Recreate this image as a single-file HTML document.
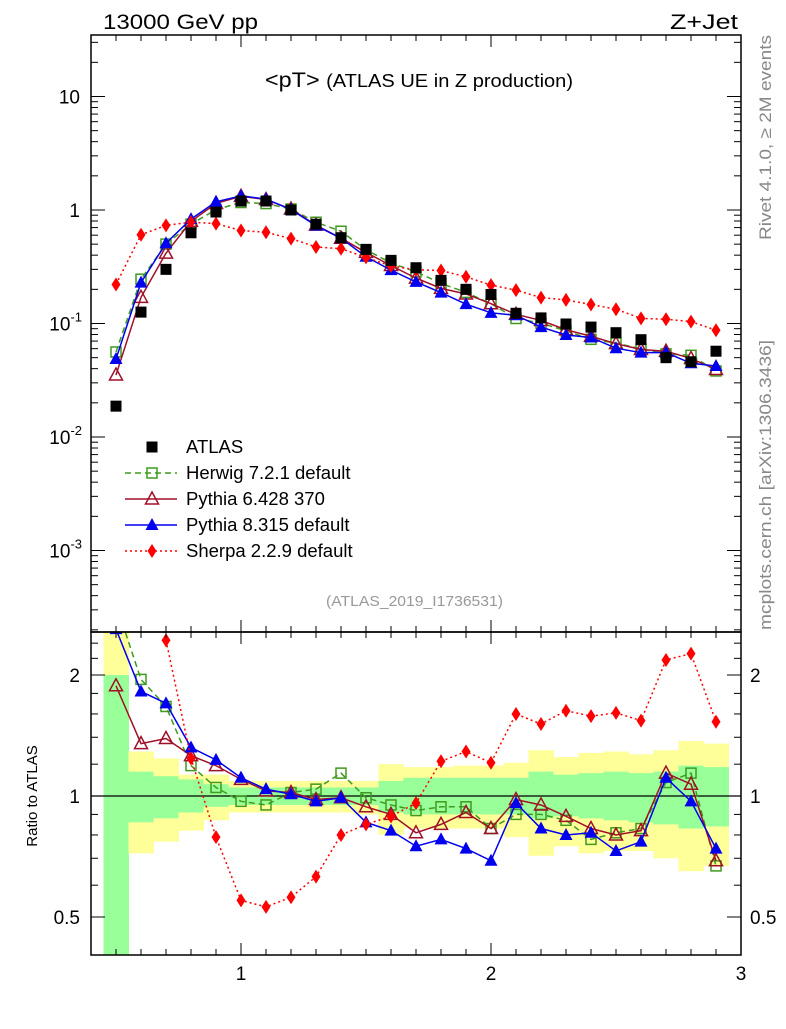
<!DOCTYPE html>
<html><head><meta charset="utf-8">
<style>
body{margin:0;background:#fff;}
svg text{font-family:"Liberation Sans",sans-serif;}
</style></head>
<body>
<svg id="chart" width="786" height="1024" viewBox="0 0 786 1024" xmlns="http://www.w3.org/2000/svg">
<defs>
<clipPath id="clipMain"><rect x="91" y="35" width="650" height="597"/></clipPath>
<clipPath id="clipRatio"><rect x="91" y="632" width="650" height="323"/></clipPath>
</defs>
<g id="bands" clip-path="url(#clipRatio)"></g>
<g id="marks"></g>
<rect x="91" y="35" width="650" height="597" fill="none" stroke="#000" stroke-width="1.5"/>
<rect x="91" y="632" width="650" height="323" fill="none" stroke="#000" stroke-width="1.5"/>
<g id="axes"></g>
<text x="103" y="29" font-size="21" textLength="155" lengthAdjust="spacingAndGlyphs">13000 GeV pp</text>
<text x="670" y="29" font-size="21" textLength="68" lengthAdjust="spacingAndGlyphs">Z+Jet</text>
<text x="265" y="87" font-size="21" textLength="308" lengthAdjust="spacingAndGlyphs">&lt;pT&gt; <tspan font-size="18">(ATLAS UE in Z production)</tspan></text>
<text x="326" y="606" font-size="15" fill="#999" textLength="177" lengthAdjust="spacingAndGlyphs">(ATLAS_2019_I1736531)</text>
<text transform="translate(771,240) rotate(-90)" font-size="17" fill="#888" textLength="205" lengthAdjust="spacingAndGlyphs">Rivet 4.1.0, ≥ 2M events</text>
<text transform="translate(771,630) rotate(-90)" font-size="17" fill="#888" textLength="290" lengthAdjust="spacingAndGlyphs">mcplots.cern.ch [arXiv:1306.3436]</text>
<text transform="translate(37,796) rotate(-90)" font-size="15" text-anchor="middle">Ratio to ATLAS</text>
<g id="legend"></g>
</svg>
<script>
const xs = [0.5,0.6,0.7,0.8,0.9,1.0,1.1,1.2,1.3,1.4,1.5,1.6,1.7,1.8,1.9,2.0,2.1,2.2,2.3,2.4,2.5,2.6,2.7,2.8,2.9];
const atlas = [0.0187,0.126,0.30,0.63,0.96,1.2,1.2,1.0,0.75,0.57,0.45,0.36,0.31,0.24,0.20,0.18,0.123,0.112,0.099,0.093,0.083,0.072,0.050,0.046,0.057];
const herwigRatio = [3.0,1.95,1.67,1.19,1.05,0.97,0.95,1.02,1.04,1.14,0.99,0.95,0.92,0.94,0.94,0.83,0.90,0.90,0.87,0.78,0.81,0.83,1.08,1.14,0.67];
const py6Ratio = [1.88,1.35,1.39,1.26,1.19,1.10,1.03,1.02,0.98,0.99,0.94,0.90,0.81,0.85,0.91,0.83,0.98,0.95,0.89,0.83,0.80,0.82,1.14,1.07,0.69];
const py8Ratio = [2.6,1.82,1.70,1.32,1.23,1.11,1.04,1.01,0.97,0.99,0.86,0.82,0.75,0.78,0.74,0.69,0.96,0.83,0.80,0.81,0.73,0.77,1.11,0.97,0.74];
const sherpaRatio = [11.8,4.8,2.44,1.24,0.79,0.55,0.53,0.56,0.63,0.80,0.85,0.89,0.96,1.22,1.29,1.21,1.60,1.51,1.63,1.58,1.61,1.54,2.18,2.26,1.53];
const yellowHi = [2.7,1.29,1.24,1.13,1.13,1.09,1.09,1.09,1.09,1.09,1.09,1.20,1.18,1.18,1.19,1.19,1.21,1.30,1.25,1.28,1.29,1.27,1.30,1.37,1.35];
const yellowLo = [0.3,0.72,0.77,0.82,0.87,0.91,0.91,0.91,0.91,0.91,0.90,0.80,0.83,0.83,0.83,0.83,0.79,0.71,0.75,0.72,0.73,0.73,0.70,0.65,0.67];
const greenHi = [2.0,1.15,1.12,1.10,1.07,1.05,1.05,1.05,1.05,1.05,1.05,1.09,1.11,1.11,1.11,1.11,1.11,1.15,1.13,1.14,1.15,1.14,1.15,1.19,1.18];
const greenLo = [0.3,0.86,0.88,0.91,0.94,0.95,0.95,0.95,0.95,0.95,0.95,0.91,0.90,0.90,0.90,0.90,0.90,0.88,0.89,0.88,0.87,0.86,0.85,0.83,0.84];
const xTicks = [1,2,3];
const mainTicks = [1,0,-1,-2,-3];
const ratioTicks = [0.5,1,2];

const NS="http://www.w3.org/2000/svg";
const X0=91,X1=741;
function sx(v){return X0+(v-0.4)*(X1-X0)/2.6;}
function sy(v){return 210-Math.log10(v)*113.5;}
function ry(v){return 796-Math.log10(v)*402;}
function mk(tag,attrs,parent){const e=document.createElementNS(NS,tag);for(const k in attrs)e.setAttribute(k,attrs[k]);parent.appendChild(e);return e;}

const bands=document.getElementById('bands');
xs.forEach((x,i)=>{
  const a=sx(x-0.05),b=sx(x+0.05);
  const r1=mk('rect',{x:a,y:ry(yellowHi[i]),width:b-a+0.5,height:ry(yellowLo[i])-ry(yellowHi[i]),fill:'#ffff99'},bands);
  
  
  const r2=mk('rect',{x:a,y:ry(greenHi[i]),width:b-a+0.5,height:ry(greenLo[i])-ry(greenHi[i]),fill:'#99ff99'},bands);
  
  
});
const one=mk('line',{x1:X0,x2:X1,y1:ry(1),y2:ry(1),stroke:'#000','stroke-width':1.2},bands);



const marks=document.getElementById('marks');
const gMain=mk('g',{'clip-path':'url(#clipMain)'},marks);


const gRatio=mk('g',{'clip-path':'url(#clipRatio)'},marks);



function marker(g,type,cx,cy,color,s){
  let e;
  if(type==='sq'){e=mk('rect',{x:cx-s/2,y:cy-s/2,width:s,height:s,fill:color},g);}
  else if(type==='osq'){e=mk('rect',{x:cx-5,y:cy-5,width:10,height:10,fill:'none',stroke:color,'stroke-width':1.5},g);}
  else if(type==='otri'){e=mk('polygon',{points:`${cx},${cy-7} ${cx-6.5},${cy+5} ${cx+6.5},${cy+5}`,fill:'none',stroke:color,'stroke-width':1.5},g);}
  else if(type==='tri'){e=mk('polygon',{points:`${cx},${cy-7} ${cx-6.5},${cy+5} ${cx+6.5},${cy+5}`,fill:color},g);}
  else {e=mk('polygon',{points:`${cx},${cy-7} ${cx-4.5},${cy} ${cx},${cy+7} ${cx+4.5},${cy}`,fill:color},g);}
  return e;
}
const series=[
 {name:'herwig',ratio:herwigRatio,color:'#3f9a1f',dash:'6,4',type:'osq',w:1.5},
 {name:'pythia6',ratio:py6Ratio,color:'#a01028',dash:'',type:'otri',w:1.5},
 {name:'pythia8',ratio:py8Ratio,color:'#0000ee',dash:'',type:'tri',w:1.5},
 {name:'sherpa',ratio:sherpaRatio,color:'#ff0000',dash:'2,3',type:'dia',w:1.5}
];
series.forEach(s=>{
  const mainPts=xs.map((x,i)=>[sx(x),sy(atlas[i]*s.ratio[i])]);
  const ratPts=xs.map((x,i)=>[sx(x),ry(s.ratio[i])]);
  const l1=mk('polyline',{points:mainPts.map(p=>p.join(',')).join(' '),fill:'none',stroke:s.color,'stroke-width':s.w,'stroke-dasharray':s.dash},gMain);
  
  
  const l2=mk('polyline',{points:ratPts.map(p=>p.join(',')).join(' '),fill:'none',stroke:s.color,'stroke-width':s.w,'stroke-dasharray':s.dash},gRatio);
  
  
  mainPts.forEach(p=>{const m=marker(gMain,s.type,p[0],p[1],s.color,0);
    
    });
  ratPts.forEach(p=>{const m=marker(gRatio,s.type,p[0],p[1],s.color,0);
    
    });
});
xs.forEach((x,i)=>{const m=marker(gMain,'sq',sx(x),sy(atlas[i]),'#000',11);
  
  });

const axes=document.getElementById('axes');
function ln(x1,y1,x2,y2,name){const e=mk('line',{x1,y1,x2,y2,stroke:'#000','stroke-width':1},axes);
  
  }
for(let v=0.4;v<=3.001;v+=0.1){
  const X=sx(v);const major=Math.abs(v-Math.round(v))<0.01;const L=major?12:6;
  ln(X,35,X,35+L,'x-tick');ln(X,632,X,632-L,'x-tick');ln(X,632,X,632+L,'x-tick');ln(X,955,X,955-L,'x-tick');
}
xTicks.forEach(v=>{const t=mk('text',{x:sx(v),y:980,'font-size':19,'text-anchor':'middle'},axes);t.textContent=v;
  
  });
for(let d=-4;d<=1;d++){for(let k=1;k<10;k++){const v=k*Math.pow(10,d);const Y=sy(v);if(Y<35||Y>632)continue;
  const L=k===1?14:7;ln(91,Y,91+L,Y,'y-tick');ln(741,Y,741-L,Y,'y-tick');}}
mainTicks.forEach(e=>{const Y=sy(Math.pow(10,e));let t;
  if(e===1){t=mk('text',{x:80,y:Y+7,'font-size':19,'text-anchor':'end'},axes);t.textContent='10';}
  else if(e===0){t=mk('text',{x:80,y:Y+7,'font-size':19,'text-anchor':'end'},axes);t.textContent='1';}
  else{t=mk('text',{x:82,y:Y+7,'font-size':19,'text-anchor':'end'},axes);t.textContent='10';
    const ts=mk('tspan',{dy:-9,'font-size':13},t);ts.textContent=String(e);}
  
  });
[0.4,0.5,0.6,0.7,0.8,0.9,1,1.2,1.4,1.6,1.8,2,2.2,2.4].forEach(v=>{const Y=ry(v);if(Y<632||Y>955)return;
  const L=(v===0.5||v===1||v===2)?14:7;ln(91,Y,91+L,Y,'ratio-y-tick');ln(741,Y,741-L,Y,'ratio-y-tick');});
ratioTicks.forEach(v=>{const Y=ry(v);
  const t=mk('text',{x:80,y:Y+7,'font-size':19,'text-anchor':'end'},axes);t.textContent=v;
  
  
  const t2=mk('text',{x:750,y:Y+7,'font-size':19},axes);t2.textContent=v;
  
  });

const lg=document.getElementById('legend');
const entries=[['ATLAS','sq','#000','',''],['Herwig 7.2.1 default','osq','#3f9a1f','6,4','herwig'],['Pythia 6.428 370','otri','#a01028','','pythia6'],['Pythia 8.315 default','tri','#0000ee','','pythia8'],['Sherpa 2.2.9 default','dia','#ff0000','2,3','sherpa']];
entries.forEach((en,i)=>{const Y=447+i*26;
  const g=mk('g',{},lg);
  
  
  if(i>0)mk('line',{x1:125,x2:177,y1:Y,y2:Y,stroke:en[2],'stroke-width':1.5,'stroke-dasharray':en[3]},g);
  marker(g,en[1],152,Y,en[2],11);
  const t=mk('text',{x:186,y:Y+6,'font-size':18.5},g);t.textContent=en[0];});
</script>
</body></html>
